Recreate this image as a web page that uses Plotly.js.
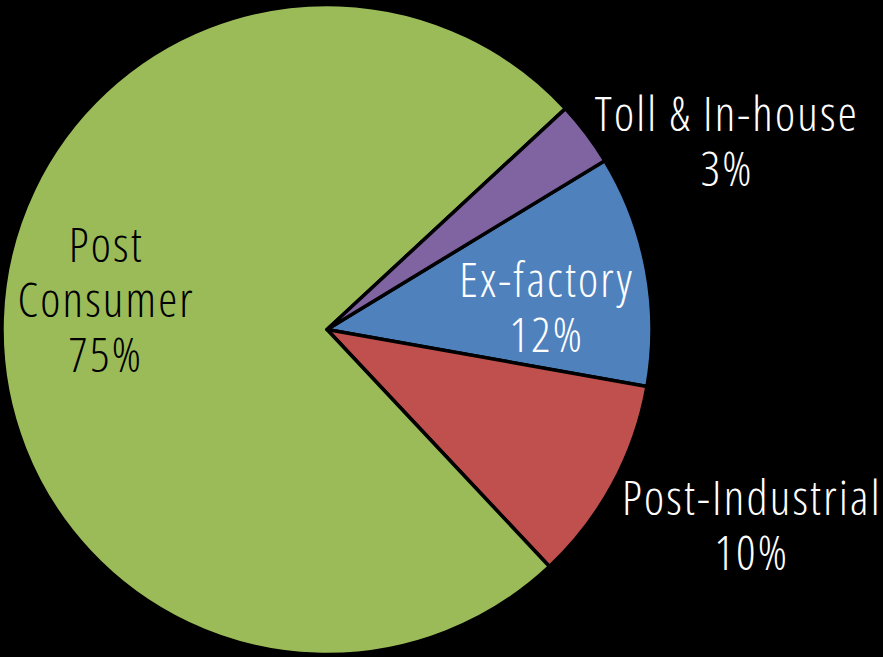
<!DOCTYPE html>
<html>
<head>
<meta charset="utf-8">
<script src="https://cdn.plot.ly/plotly-3.0.1.min.js"></script>
<style>
  html, body { margin: 0; padding: 0; background: #000; }
  #chart { width: 883px; height: 657px; }
  #chart .annotation-text { font-stretch: 75% !important; letter-spacing: 2.2px; }
</style>
</head>
<body>
<div id="chart"></div>
<script>
// Data (clockwise order from the Ex-factory slice)
var categories = ['Ex-factory', 'Post-Industrial', 'Post Consumer', 'Toll & In-house'];
var displayNames = ['Ex-factory', 'Post-Industrial', 'Post<br>Consumer', 'Toll & In-house'];
var shares = [11.5, 10.2, 75.1, 3.2];
var pctLabels = ['12%', '10%', '75%', '3%'];
var sliceColors = ['#4F81BD', '#C0504D', '#9BBB59', '#8064A2'];
var labelColors = ['#FFFFFF', '#FFFFFF', '#000000', '#FFFFFF'];
// label centres in paper fractions (layout only)
var labelPos = [[547 / 883, 1 - 306 / 657], [752 / 883, 1 - 524 / 657], [106 / 883, 1 - 298 / 657], [727 / 883, 1 - 140 / 657]];

var FONT = '"Open Sans", sans-serif';
var LINE_GAP = 55;

var trace = {
  type: 'pie',
  labels: categories,
  values: shares,
  sort: false,
  direction: 'clockwise',
  rotation: 58.7,
  textinfo: 'none',
  hoverinfo: 'label+percent',
  marker: { colors: sliceColors, line: { color: '#000000', width: 3.5 } },
  domain: { x: [2 / 883, 652 / 883], y: [1 - 655 / 657, 1 - 4 / 657] },
  showlegend: false
};

var annotations = [];
categories.forEach(function (c, i) {
  var lines = displayNames[i].split('<br>').concat([pctLabels[i]]);
  var n = lines.length;
  lines.forEach(function (line, k) {
    annotations.push({
      xref: 'paper', yref: 'paper',
      x: labelPos[i][0], y: labelPos[i][1],
      xanchor: 'center', yanchor: 'middle',
      yshift: ((n - 1) / 2 - k) * LINE_GAP,
      text: line,
      showarrow: false,
      align: 'center',
      borderpad: 0,
      font: { family: FONT, size: 48, weight: 300, color: labelColors[i] }
    });
  });
});

var layout = {
  width: 883, height: 657,
  margin: { l: 0, r: 0, t: 0, b: 0 },
  paper_bgcolor: '#000000',
  plot_bgcolor: '#000000',
  annotations: annotations,
  showlegend: false
};

Plotly.newPlot('chart', [trace], layout, { displayModeBar: false, staticPlot: true });
</script>
</body>
</html>
